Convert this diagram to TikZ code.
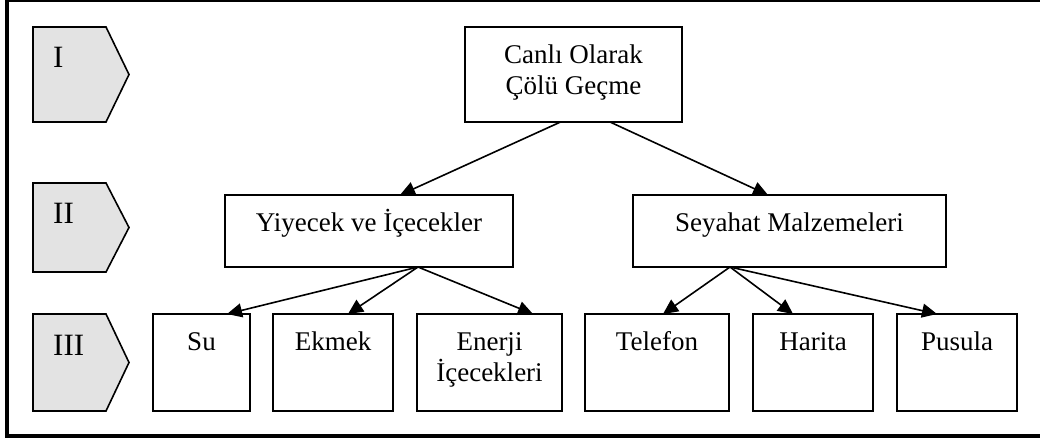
\documentclass[tikz,border=0pt]{standalone}
\usepackage{fontspec}
\setmainfont{Liberation Serif}
\usetikzlibrary{arrows.meta}
\newcommand{\boxtxt}[3]{\parbox[b][#2pt][t]{#1pt}{\centering\fontsize{27}{31}\selectfont\rule{0pt}{36pt}#3\par}}
\begin{document}
\begin{tikzpicture}[x=1pt,y=-1pt,
  box/.style={draw, line width=1.6pt, inner sep=0pt, outer sep=0pt},
  conn/.style={line width=1.6pt, -{Triangle[length=15pt,width=14pt]}},
  levelshape/.style={draw, line width=1.6pt, fill=black!11, line join=miter},
  numeral/.style={anchor=base west, inner sep=0pt, font=\fontsize{31}{33}\selectfont}]
\useasboundingbox (0,0) rectangle (1040,442);
\draw[line width=4pt] (7,-0.5) rectangle (1042,436);

% level markers
\draw[levelshape] (33,27) -- (106,27) -- (129,74.5) -- (106,122) -- (33,122) -- cycle;
\draw[levelshape] (33,183) -- (106,183) -- (129,227.5) -- (106,272) -- (33,272) -- cycle;
\draw[levelshape] (33,314) -- (106,314) -- (129,362.5) -- (106,411) -- (33,411) -- cycle;
\node[numeral] (l1) at (53,67) {I};
\node[numeral] (l2) at (53,223) {II};
\node[numeral] (l3) at (53,355) {III};

% boxes
\node[box] (top) at (573.5,74.5) {\boxtxt{217}{95}{Canlı Olarak\\Çölü Geçme}};
\node[box] (yiy) at (369,231) {\boxtxt{288}{72}{Yiyecek ve İçecekler}};
\node[box] (sey) at (789.5,231) {\boxtxt{313}{72}{Seyahat Malzemeleri}};
\node[box] (su) at (201.5,362.5) {\boxtxt{97}{97}{Su}};
\node[box] (ekmek) at (333,362.5) {\boxtxt{120}{97}{Ekmek}};
\node[box] (enerji) at (489.5,362.5) {\boxtxt{145}{97}{Enerji\\İçecekleri}};
\node[box] (telefon) at (657,362.5) {\boxtxt{144}{97}{Telefon}};
\node[box] (harita) at (813,362.5) {\boxtxt{120}{97}{Harita}};
\node[box] (pusula) at (957,362.5) {\boxtxt{120}{97}{Pusula}};

% connectors
\draw[conn] ([xshift=-13pt]top.south) -- ([xshift=31pt]yiy.north);
\draw[conn] ([xshift=36.5pt]top.south) -- ([xshift=-21.5pt]sey.north);
\draw[conn] ([xshift=49pt]yiy.south) -- ([xshift=25.5pt]su.north);
\draw[conn] ([xshift=49pt]yiy.south) -- ([xshift=15pt]ekmek.north);
\draw[conn] ([xshift=49pt]yiy.south) -- ([xshift=43.5pt]enerji.north);
\draw[conn] ([xshift=-59.5pt]sey.south) -- ([xshift=6pt]telefon.north);
\draw[conn] ([xshift=-59.5pt]sey.south) -- ([xshift=-20pt]harita.north);
\draw[conn] ([xshift=-59.5pt]sey.south) -- ([xshift=-20pt]pusula.north);
\end{tikzpicture}
\end{document}
